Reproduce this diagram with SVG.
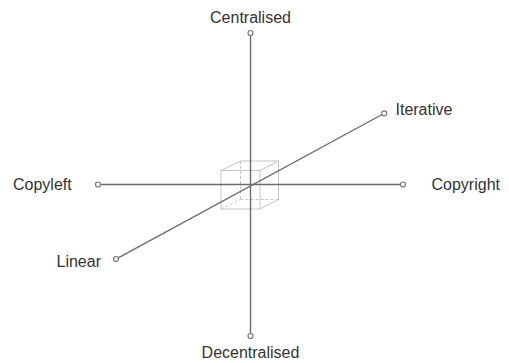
<svg xmlns="http://www.w3.org/2000/svg" width="509" height="363" viewBox="0 0 509 363">
<style>
.lbl{font-family:"Liberation Sans",Arial,sans-serif;font-size:16px;fill:#333}
.axis{stroke:#6b6b6b;stroke-width:1.4;fill:none}
.end{fill:#fff;stroke:#777;stroke-width:1.2}
.cube{stroke:#c4c4c4;stroke-width:1;fill:none}
.hid{stroke:#c4c4c4;stroke-width:1;fill:none;stroke-dasharray:3 2}
</style>
<rect width="509" height="363" fill="#fff"/>
<g id="cube">
<rect class="cube" x="221" y="170.5" width="39" height="38.5"/>
<polyline class="cube" points="221,170.5 240.5,161 278.5,161 278.5,199.5 260,209"/>
<line class="cube" x1="260" y1="170.5" x2="278.5" y2="161"/>
<line class="hid" x1="240.5" y1="161" x2="240.5" y2="199.5"/>
<line class="hid" x1="240.5" y1="199.5" x2="278.5" y2="199.5"/>
<line class="hid" x1="221" y1="209" x2="240.5" y2="199.5"/>
</g>
<g id="connectors">
<line class="axis" x1="250.5" y1="35.5" x2="250.5" y2="333.5"/>
<line class="axis" x1="100.5" y1="184.5" x2="400.5" y2="184.5"/>
<line class="axis" x1="118.2" y1="257.8" x2="382.1" y2="114.5"/>
</g>
<g id="centralised"><circle class="end" cx="250.5" cy="33" r="2.5"/><text class="lbl" x="250.5" y="23" text-anchor="middle">Centralised</text></g>
<g id="decentralised"><circle class="end" cx="250.5" cy="336" r="2.5"/><text class="lbl" x="250.5" y="358" text-anchor="middle">Decentralised</text></g>
<g id="copyleft"><circle class="end" cx="98" cy="184.5" r="2.5"/><text class="lbl" x="13" y="189.5">Copyleft</text></g>
<g id="copyright"><circle class="end" cx="403" cy="184.5" r="2.5"/><text class="lbl" x="431.5" y="189.5">Copyright</text></g>
<g id="iterative"><circle class="end" cx="384.3" cy="113.3" r="2.5"/><text class="lbl" x="395.5" y="114.5">Iterative</text></g>
<g id="linear"><circle class="end" cx="116" cy="259" r="2.5"/><text class="lbl" x="56.5" y="266.5">Linear</text></g>
</svg>
